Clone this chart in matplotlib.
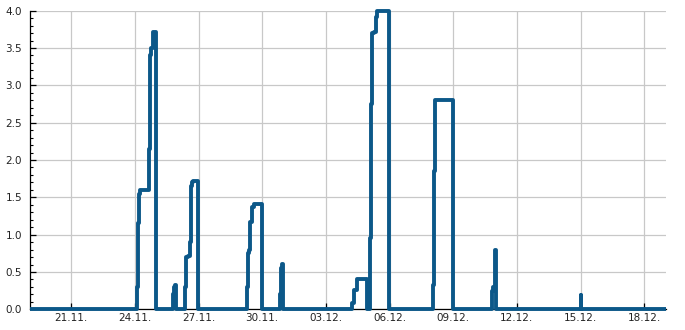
import matplotlib
matplotlib.use("Agg")
import matplotlib.pyplot as plt
import matplotlib.dates as mdates
from matplotlib.ticker import MultipleLocator, FormatStrFormatter
import pandas as pd

# step data (value holds until the next timestamp)
times = [
    "2023-11-19 02:00",
    # 24.11.
    "2023-11-24 03:00", "2023-11-24 04:00", "2023-11-24 05:00", "2023-11-24 06:00",
    "2023-11-24 16:00", "2023-11-24 17:00", "2023-11-24 18:00", "2023-11-24 20:00",
    "2023-11-24 21:00", "2023-11-25 00:00",
    # 25.11.
    "2023-11-25 19:00", "2023-11-25 20:00", "2023-11-25 21:00", "2023-11-25 22:00",
    "2023-11-25 23:00",
    # 26.11.
    "2023-11-26 09:00", "2023-11-26 10:00", "2023-11-26 12:00", "2023-11-26 14:00",
    "2023-11-26 15:00", "2023-11-26 16:00", "2023-11-26 17:00", "2023-11-26 18:00",
    "2023-11-26 23:00",
    # 29.11.
    "2023-11-29 07:00", "2023-11-29 08:00", "2023-11-29 09:00", "2023-11-29 10:00",
    "2023-11-29 12:00", "2023-11-29 13:00", "2023-11-29 15:00", "2023-11-30 00:00",
    # 30.11.
    "2023-11-30 20:00", "2023-11-30 21:00", "2023-11-30 22:00", "2023-11-30 23:00",
    "2023-12-01 00:00",
    # 04.12. / 05.12.
    "2023-12-04 06:00", "2023-12-04 08:00", "2023-12-04 11:00", "2023-12-04 23:00",
    "2023-12-05 02:00", "2023-12-05 03:00", "2023-12-05 04:00", "2023-12-05 06:00",
    "2023-12-05 09:00", "2023-12-05 10:00", "2023-12-05 23:00",
    # 08.12.
    "2023-12-08 01:00", "2023-12-08 02:00", "2023-12-08 03:00", "2023-12-09 00:00",
    # 10.12.
    "2023-12-10 20:00", "2023-12-10 21:00", "2023-12-10 23:00", "2023-12-11 00:00",
    # 15.12.
    "2023-12-15 00:00", "2023-12-15 01:00",
    "2023-12-19 00:40",
]
values = [
    0.0,
    0.30, 1.15, 1.55, 1.60,
    2.15, 3.40, 3.50, 3.70,
    3.72, 0.0,
    0.20, 0.30, 0.33, 0.30,
    0.0,
    0.30, 0.70, 0.72, 0.90,
    1.35, 1.65, 1.70, 1.72,
    0.0,
    0.30, 0.75, 0.80, 1.17,
    1.31, 1.37, 1.41, 0.0,
    0.20, 0.55, 0.61, 0.58,
    0.0,
    0.08, 0.26, 0.40, 0.0,
    0.95, 2.75, 3.70, 3.72,
    3.92, 4.00, 0.0,
    0.33, 1.85, 2.80, 0.0,
    0.25, 0.30, 0.79, 0.0,
    0.19, 0.0,
    0.0,
]
tick_dates = ["2023-11-21", "2023-11-24", "2023-11-27", "2023-11-30", "2023-12-03",
              "2023-12-06", "2023-12-09", "2023-12-12", "2023-12-15", "2023-12-18"]

t = pd.to_datetime(times)
ticks = pd.to_datetime(tick_dates)

fig = plt.figure(figsize=(6.85, 3.30), dpi=100)
ax = fig.add_axes([0.0445, 0.0627, 0.9278, 0.905])

ax.plot(t, values, drawstyle="steps-post", color="#0c5889", lw=2.8,
        solid_capstyle="butt", solid_joinstyle="round", clip_on=False, zorder=3)

ax.set_xlim(t[0], t[-1])
ax.set_ylim(0, 4.0)

ax.set_xticks(ticks)
ax.xaxis.set_major_formatter(mdates.DateFormatter("%d.%m."))
ax.yaxis.set_major_locator(MultipleLocator(0.5))
ax.yaxis.set_minor_locator(MultipleLocator(0.1))
ax.yaxis.set_major_formatter(FormatStrFormatter("%.1f"))

ax.grid(True, which="major", color="#c8c8c8", lw=0.9)
ax.set_axisbelow(True)

for side in ["top", "right"]:
    ax.spines[side].set_visible(False)
for side in ["left", "bottom"]:
    ax.spines[side].set_color("black")
    ax.spines[side].set_linewidth(0.9)

ax.tick_params(axis="both", which="major", direction="in", length=4, width=0.9,
               labelsize=7.5, labelcolor="#222222", color="black")
ax.tick_params(axis="y", which="minor", direction="in", length=2.5, width=0.8, color="black")
ax.tick_params(axis="y", which="major", pad=6)
ax.tick_params(axis="x", which="major", pad=3)

fig.savefig("out.png", dpi=100)
